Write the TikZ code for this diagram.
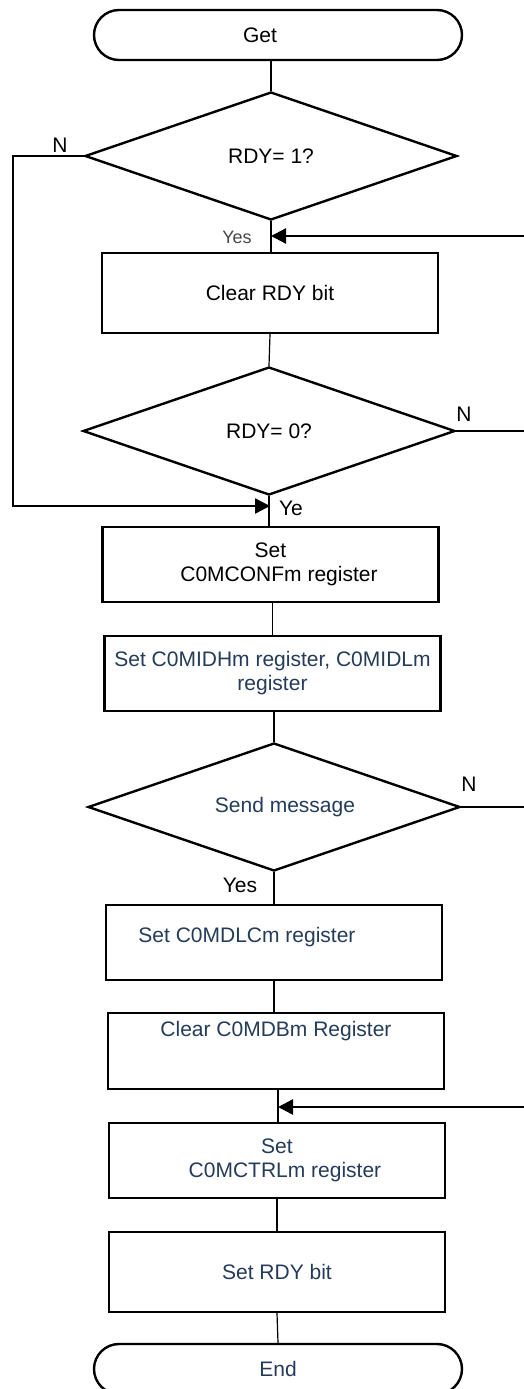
\documentclass[tikz,border=0pt]{standalone}
\usepackage{fontspec}
\setmainfont{Liberation Sans}
\usetikzlibrary{shapes.geometric,arrows.meta}
\definecolor{txtblue}{RGB}{36,60,90}
\definecolor{lblgray}{RGB}{70,70,70}
\begin{document}
\begin{tikzpicture}[x=1pt,y=-1pt,
  font=\fontsize{21}{24}\selectfont,
  term/.style={draw,line width=2.4pt,rounded corners=25pt,minimum width=368pt,minimum height=50pt},
  proc/.style={draw,line width=2.4pt,minimum width=336pt,minimum height=75pt,align=center},
  dec/.style={draw,diamond,shape aspect=2.9,line width=2.4pt,inner sep=0pt,minimum width=372pt,minimum height=128pt},
  flow/.style={line width=1.2pt},
  back/.style={line width=2.4pt},
  arr/.style={back,-{Triangle[length=15pt,width=15pt]}},
  lbl/.style={inner sep=0pt}]
  \useasboundingbox (0,0) rectangle (524,1389);
  \node[term] (get) at (278,35) {Get\hspace*{36pt}};
  \node[dec] (q1) at (271,156) {RDY= 1?};
  \node[proc,minimum height=80pt] (clr) at (270,293) {Clear RDY bit};
  \node[dec] (q2) at (269,431) {RDY= 0?};
  \node[proc] (conf) at (270.5,564.5) {Set\\\hspace*{17pt}C0MCONFm register};
  \node[proc,text=txtblue] (mid) at (272.5,673.5) {Set C0MIDHm register, C0MIDLm\\register};
  \node[dec,text=txtblue] (q3) at (274,807) {\hspace*{22pt}Send message};
  \node[proc] (dlc) at (274,942.5) {};
  \node[proc,minimum height=76pt] (mdb) at (276,1051) {};
  \node[proc,text=txtblue] (ctrl) at (277,1160.5) {Set\\\hspace*{16pt}C0MCTRLm register};
  \node[proc,minimum height=80pt,text=txtblue] (rdy) at (277,1272) {Set RDY bit};
  \node[term,text=txtblue] (fin) at (278,1369) {End};
  \node[text=txtblue,anchor=base] (dlctxt) at (247,942) {Set C0MDLCm register};
  \node[text=txtblue,anchor=base] (mdbtxt) at (276,1036) {Clear C0MDBm Register};

  \node[lbl] (n1) at (60,145) {N};
  \node[lbl] (n2) at (464,414) {N};
  \node[lbl] (n3) at (469,784) {N};
  \node[lbl,text=lblgray,font=\fontsize{18}{20}\selectfont] (y1) at (237,237) {Yes};
  \node[lbl] (y2) at (291,508) {Ye};
  \node[lbl] (y3) at (240,885) {Yes};

  \coordinate (j1) at (271,236);
  \coordinate (r1) at (524,236);
  \coordinate (j2) at (270,506);
  \coordinate (l1) at (13,156);
  \coordinate (r2) at (524,431);
  \coordinate (r3) at (524,807);
  \coordinate (j3) at (278,1107);
  \coordinate (r4) at (524,1107);

  \draw[flow] (q1.north |- get.south) -- (q1.north);
  \draw[flow] (q1.south) -- (clr.north -| q1.south);
  \draw[flow] (clr.south) -- (q2.north);
  \draw[flow] (q2.south) -- (conf.north -| q2.south);
  \draw[flow] (mid.north |- conf.south) -- (mid.north);
  \draw[flow] (q3.north |- mid.south) -- (q3.north);
  \draw[flow] (q3.south) -- (dlc.north);
  \draw[flow] (dlc.south) -- (mdb.north -| dlc.south);
  \draw[flow] (j3 |- mdb.south) -- (j3 |- ctrl.north);
  \draw[flow] (ctrl.south) -- (rdy.north);
  \draw[flow] (rdy.south) -- (fin.north);
  \draw[flow] (q2.east) -- (r2);
  \draw[back] (q3.east) -- (r3);
  \draw[arr] (q1.west) -- (l1) |- (j2);
  \draw[arr] (r1) -- (j1);
  \draw[arr] (r4) -- (j3);
\end{tikzpicture}
\end{document}
